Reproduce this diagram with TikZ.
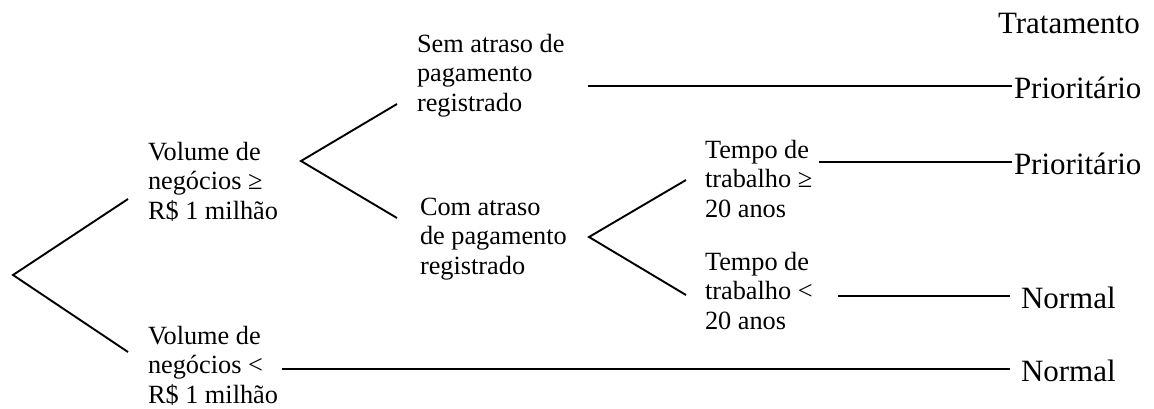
\documentclass[tikz,border=0pt]{standalone}
\usepackage{fontspec}
\setmainfont{Liberation Serif}
\begin{document}
\begin{tikzpicture}[x=1pt,y=-1pt,
  lbl/.style={anchor=base west, inner sep=0pt, outer sep=0pt, font=\fontsize{26.3}{29.5}\selectfont},
  res/.style={anchor=base west, inner sep=0pt, outer sep=0pt, font=\fontsize{31}{36}\selectfont},
  branch/.style={line width=1.9pt}]
\useasboundingbox (0,0) rectangle (1154,408);

% labels
\node[lbl] (vol1) at (148,160) {\begin{tabular}[t]{@{}l@{}}Volume de\\negócios ≥\\R\$ 1 milhão\end{tabular}};
\node[lbl] (vol2) at (148,344) {\begin{tabular}[t]{@{}l@{}}Volume de\\negócios <\\R\$ 1 milhão\end{tabular}};
\node[lbl] (sem) at (417,52) {\begin{tabular}[t]{@{}l@{}}Sem atraso de\\pagamento\\registrado\end{tabular}};
\node[lbl] (com) at (420,215) {\begin{tabular}[t]{@{}l@{}}Com atraso\\de pagamento\\registrado\end{tabular}};
\node[lbl] (tp1) at (705,158) {\begin{tabular}[t]{@{}l@{}}Tempo de\\trabalho ≥\\20 anos\end{tabular}};
\node[lbl] (tp2) at (705,270) {\begin{tabular}[t]{@{}l@{}}Tempo de\\trabalho <\\20 anos\end{tabular}};

\node[res] (trat) at (998,33) {Tratamento};
\node[res] (p1) at (1014,98) {Prioritário};
\node[res] (p2) at (1014,174) {Prioritário};
\node[res] (n1) at (1021,308) {Normal};
\node[res] (n2) at (1021,381) {Normal};

% fork points
\coordinate (r0) at (13,275);
\coordinate (r1) at (128,199);
\coordinate (r2) at (128,352);
\coordinate (f1) at (301,161);
\coordinate (f1a) at (397,104);
\coordinate (f1b) at (397,218);
\coordinate (f2) at (589,237);
\coordinate (f2a) at (686,180);
\coordinate (f2b) at (686,295);

% horizontal line ends
\coordinate (h1s) at (588,86);
\coordinate (h1e) at (1012,86);
\coordinate (h2s) at (819,162);
\coordinate (h2e) at (1012,162);
\coordinate (h3s) at (838,296);
\coordinate (h3e) at (1010,296);
\coordinate (h4s) at (282,369);
\coordinate (h4e) at (1010,369);

\draw[branch] (r1) -- (r0) -- (r2);
\draw[branch] (f1a) -- (f1) -- (f1b);
\draw[branch] (f2a) -- (f2) -- (f2b);
\draw[branch] (h1s) -- (h1e);
\draw[branch] (h2s) -- (h2e);
\draw[branch] (h3s) -- (h3e);
\draw[branch] (h4s) -- (h4e);
\end{tikzpicture}
\end{document}
